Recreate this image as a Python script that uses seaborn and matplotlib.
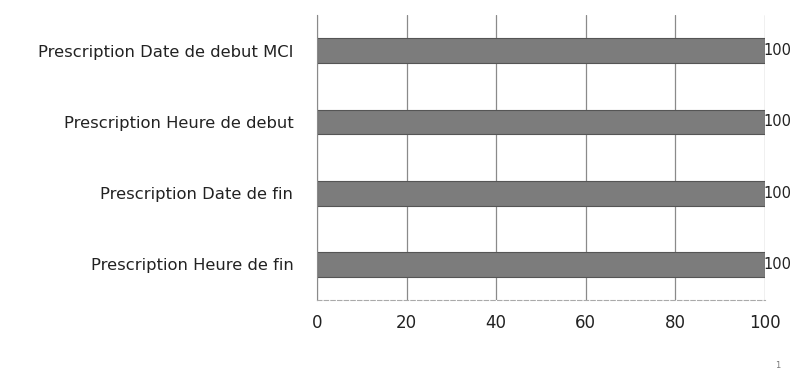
import matplotlib
matplotlib.use('Agg')
import pandas as pd
import matplotlib.pyplot as plt
import seaborn as sns

categories = ['Prescription Date de debut MCI', 'Prescription Heure de debut',
              'Prescription Date de fin', 'Prescription Heure de fin']
values = [100, 100, 100, 100]
xticks = [0, 20, 40, 60, 80, 100]

df = pd.DataFrame({'cat': categories, 'val': values})

sns.set_style('white')
plt.rcParams['font.family'] = ['DejaVu Sans']

fig = plt.figure(figsize=(7.95, 3.79), dpi=100)
ax = fig.add_axes([0.3987, 0.2084, 0.5636, 0.7516])

sns.barplot(data=df, x='val', y='cat', orient='h', color='#7c7c7c',
            saturation=1, width=0.35, edgecolor='#555555', linewidth=0.8, ax=ax)

ax.set_xlim(0, 100)
ax.set_ylim(3.5, -0.5)
ax.set_xticks(xticks)
ax.set_xticklabels([str(t) for t in xticks], fontsize=12)
ax.tick_params(axis='y', labelsize=11.8, length=0, pad=17, labelcolor='#222222')
ax.tick_params(axis='x', length=0, pad=10, labelcolor='#222222')
ax.set_xlabel('')
ax.set_ylabel('')
ax.grid(axis='x', color='#8a8a8a', linewidth=0.9)
ax.set_axisbelow(True)

for s in ['top', 'right']:
    ax.spines[s].set_visible(False)
ax.spines['left'].set_color('#8a8a8a')
ax.spines['bottom'].set_color('#aaaaaa')
ax.spines['bottom'].set_linestyle((0, (4, 2)))

for i, v in enumerate(values):
    ax.text(v - 0.3, i, str(v), va='center', ha='left', fontsize=10.5, color='#222222')

fig.text(0.978, 0.03, '1', fontsize=6, color='#777777', ha='center')

fig.savefig('out.png', dpi=100)
